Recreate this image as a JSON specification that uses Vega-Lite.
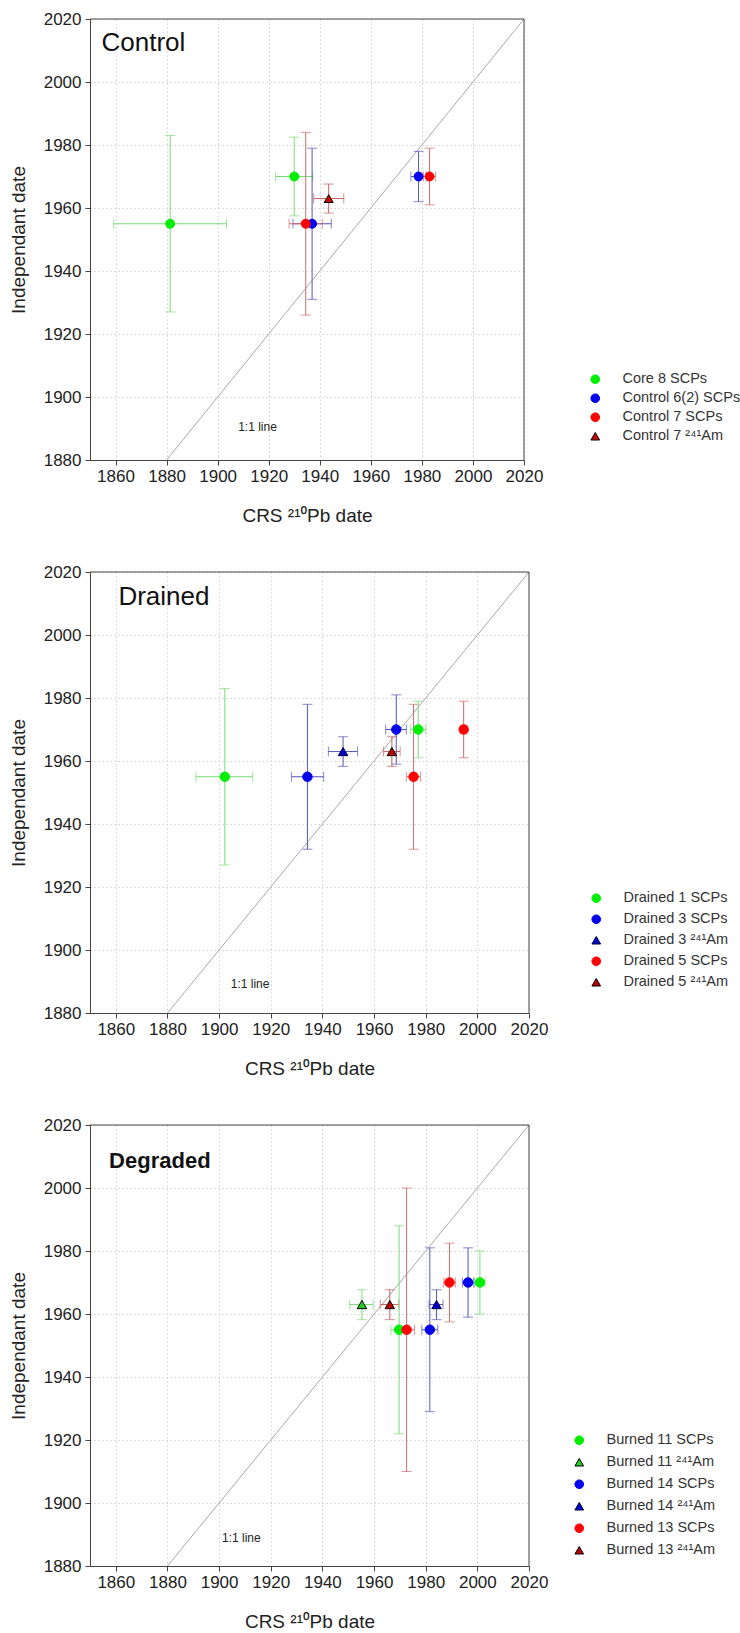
{
  "$schema": "https://vega.github.io/schema/vega-lite/v6.json",
  "padding": {"left": 9, "top": 10, "right": 2, "bottom": 3},
  "bounds": "flush",
  "spacing": 112,
  "config": {
    "font": "Liberation Sans",
    "view": {"stroke": null},
    "axis": {"labelFont": "Liberation Sans", "labelFontSize": 17, "labelColor": "#222", "titleFont": "Liberation Sans, Noto Sans", "titleFontSize": 19, "titleFontWeight": "normal", "titleColor": "#222", "domainColor": "#444", "tickColor": "#444", "tickSize": 5, "gridColor": "#d2d2d2", "gridDash": [1.5, 2.5], "gridWidth": 1, "labelFlush": false, "format": "d"},
    "axisX": {"labelPadding": 3, "titlePadding": 22},
    "axisY": {"labelPadding": 4, "titlePadding": 15},
    "legend": {"labelFont": "Liberation Sans, Noto Sans", "labelFontSize": 14.5, "labelColor": "#333", "symbolSize": 75, "padding": 0, "labelOffset": 20, "symbolStrokeWidth": 1, "titlePadding": 0}
  },
  "datasets": {
    "control": [
      {"series": "Core 8 SCPs", "x": 1881.4, "y": 1955, "xlo": 1859.3, "xhi": 1903.5, "ylo": 1927, "yhi": 1983},
      {"series": "Core 8 SCPs", "x": 1930, "y": 1970, "xlo": 1922.7, "xhi": 1937.3, "ylo": 1957.5, "yhi": 1982.5},
      {"series": "Control 6(2) SCPs", "x": 1937, "y": 1955, "xlo": 1929.5, "xhi": 1944.5, "ylo": 1931, "yhi": 1979},
      {"series": "Control 6(2) SCPs", "x": 1978.7, "y": 1970, "xlo": 1975.7, "xhi": 1981.7, "ylo": 1962, "yhi": 1978},
      {"series": "Control 7 SCPs", "x": 1934.5, "y": 1955, "xlo": 1928, "xhi": 1941, "ylo": 1926, "yhi": 1984},
      {"series": "Control 7 SCPs", "x": 1983, "y": 1970, "xlo": 1980.6, "xhi": 1985.4, "ylo": 1961, "yhi": 1979},
      {"series": "Control 7 ²⁴¹Am", "x": 1943.5, "y": 1963, "xlo": 1937.6, "xhi": 1949.4, "ylo": 1958.4, "yhi": 1967.6}
    ],
    "drained": [
      {"series": "Drained 1 SCPs", "x": 1902.2, "y": 1955, "xlo": 1891, "xhi": 1913, "ylo": 1927, "yhi": 1983},
      {"series": "Drained 1 SCPs", "x": 1977.1, "y": 1970, "xlo": 1974.2, "xhi": 1980, "ylo": 1961, "yhi": 1979},
      {"series": "Drained 3 SCPs", "x": 1934.2, "y": 1955, "xlo": 1928, "xhi": 1940.5, "ylo": 1932, "yhi": 1978},
      {"series": "Drained 3 SCPs", "x": 1968.6, "y": 1970, "xlo": 1964.5, "xhi": 1972.5, "ylo": 1959, "yhi": 1981},
      {"series": "Drained 3 ²⁴¹Am", "x": 1948, "y": 1963, "xlo": 1942.3, "xhi": 1953.6, "ylo": 1958.3, "yhi": 1967.7},
      {"series": "Drained 5 SCPs", "x": 1975.3, "y": 1955, "xlo": 1972.5, "xhi": 1978, "ylo": 1932, "yhi": 1978},
      {"series": "Drained 5 SCPs", "x": 1994.7, "y": 1970, "xlo": 1993.4, "xhi": 1996, "ylo": 1961, "yhi": 1979},
      {"series": "Drained 5 ²⁴¹Am", "x": 1966.9, "y": 1963, "xlo": 1963.7, "xhi": 1970.1, "ylo": 1958.3, "yhi": 1967.7}
    ],
    "degraded": [
      {"series": "Burned 11 SCPs", "x": 1969.7, "y": 1955, "xlo": 1966.5, "xhi": 1972.5, "ylo": 1922, "yhi": 1988},
      {"series": "Burned 11 SCPs", "x": 2001, "y": 1970, "xlo": 1998.8, "xhi": 2003, "ylo": 1960, "yhi": 1980},
      {"series": "Burned 11 ²⁴¹Am", "x": 1955.3, "y": 1963, "xlo": 1950.6, "xhi": 1959.6, "ylo": 1958.2, "yhi": 1967.7},
      {"series": "Burned 14 SCPs", "x": 1981.6, "y": 1955, "xlo": 1978.5, "xhi": 1984.7, "ylo": 1929, "yhi": 1981},
      {"series": "Burned 14 SCPs", "x": 1996.4, "y": 1970, "xlo": 1994.2, "xhi": 1998.6, "ylo": 1959, "yhi": 1981},
      {"series": "Burned 14 ²⁴¹Am", "x": 1984.2, "y": 1963, "xlo": 1981.3, "xhi": 1986.7, "ylo": 1958.2, "yhi": 1967.7},
      {"series": "Burned 13 SCPs", "x": 1972.6, "y": 1955, "xlo": 1969.4, "xhi": 1975.7, "ylo": 1910, "yhi": 2000},
      {"series": "Burned 13 SCPs", "x": 1989.2, "y": 1970, "xlo": 1987, "xhi": 1991.5, "ylo": 1957.5, "yhi": 1982.5},
      {"series": "Burned 13 ²⁴¹Am", "x": 1966.1, "y": 1963, "xlo": 1962.4, "xhi": 1969.6, "ylo": 1958.2, "yhi": 1967.7}
    ],
    "oneone": [{"a": 1880, "b": 1880, "a2": 2020, "b2": 2020}],
    "frame": [{"a": 1850, "b": 2020, "a2": 2020, "b2": 2020}, {"a": 2020, "b": 1880, "a2": 2020, "b2": 2020}]
  },
  "vconcat": [
    {
      "width": 434, "height": 441,
      "layer": [
        {"data": {"name": "oneone"}, "mark": {"type": "rule", "color": "#a8a8a8", "strokeWidth": 1},
         "encoding": {
           "x": {"field": "a", "type": "quantitative", "scale": {"domain": [1850, 2020], "nice": false, "zero": false}, "axis": {"values": [1860, 1880, 1900, 1920, 1940, 1960, 1980, 2000, 2020]}, "title": "CRS ²¹⁰Pb date"},
           "y": {"field": "b", "type": "quantitative", "scale": {"domain": [1880, 2020], "nice": false, "zero": false}, "axis": {"values": [1880, 1900, 1920, 1940, 1960, 1980, 2000, 2020]}, "title": "Independant date"},
           "x2": {"field": "a2"}, "y2": {"field": "b2"}}},
        {"data": {"name": "frame"}, "mark": {"type": "rule", "color": "#444", "strokeWidth": 1},
         "encoding": {"x": {"field": "a", "type": "quantitative", "title": "CRS ²¹⁰Pb date"}, "y": {"field": "b", "type": "quantitative", "title": "Independant date"}, "x2": {"field": "a2"}, "y2": {"field": "b2"}}},
        {"data": {"values": [{"label": "1:1 line", "x": 1915.6, "y": 1890.4}]}, "mark": {"type": "text", "fontSize": 12, "color": "#222", "align": "center", "baseline": "middle"},
         "encoding": {"x": {"field": "x", "type": "quantitative", "title": "CRS ²¹⁰Pb date"}, "y": {"field": "y", "type": "quantitative", "title": "Independant date"}, "text": {"field": "label"}}},
        {"data": {"values": [{"label": "Control", "x": 1854.5, "y": 2012.5}]}, "mark": {"type": "text", "fontSize": 26, "color": "#111", "align": "left", "baseline": "middle"},
         "encoding": {"x": {"field": "x", "type": "quantitative", "title": "CRS ²¹⁰Pb date"}, "y": {"field": "y", "type": "quantitative", "title": "Independant date"}, "text": {"field": "label"}}},
        {"data": {"name": "control"}, "mark": {"type": "errorbar", "ticks": {"size": 10}, "thickness": 1},
         "encoding": {"x": {"field": "xlo", "type": "quantitative", "title": "CRS ²¹⁰Pb date"}, "x2": {"field": "xhi"}, "y": {"field": "y", "type": "quantitative", "title": "Independant date"},
           "color": {"field": "series", "type": "nominal", "legend": null, "scale": {"domain": ["Core 8 SCPs", "Control 6(2) SCPs", "Control 7 SCPs", "Control 7 ²⁴¹Am"], "range": ["#77dd77", "#5555bb", "#d06a6a", "#c86060"]}}}},
        {"data": {"name": "control"}, "mark": {"type": "errorbar", "ticks": {"size": 10}, "thickness": 1},
         "encoding": {"y": {"field": "ylo", "type": "quantitative", "title": "Independant date"}, "y2": {"field": "yhi"}, "x": {"field": "x", "type": "quantitative", "title": "CRS ²¹⁰Pb date"},
           "color": {"field": "series", "type": "nominal", "legend": null, "scale": {"domain": ["Core 8 SCPs", "Control 6(2) SCPs", "Control 7 SCPs", "Control 7 ²⁴¹Am"], "range": ["#77dd77", "#5555bb", "#d06a6a", "#c86060"]}}}},
        {"data": {"name": "control"}, "mark": {"type": "point", "filled": true, "opacity": 1, "size": 80, "strokeWidth": 1},
         "encoding": {"x": {"field": "x", "type": "quantitative", "title": "CRS ²¹⁰Pb date"}, "y": {"field": "y", "type": "quantitative", "title": "Independant date"},
           "fill": {"field": "series", "type": "nominal", "scale": {"domain": ["Core 8 SCPs", "Control 6(2) SCPs", "Control 7 SCPs", "Control 7 ²⁴¹Am"], "range": ["#00ee00", "#0000ee", "#ff0000", "#cc0000"]}, "legend": {"orient": "none", "legendX": 498, "legendY": 353, "title": null, "rowPadding": 4}},
           "stroke": {"field": "series", "type": "nominal", "scale": {"domain": ["Core 8 SCPs", "Control 6(2) SCPs", "Control 7 SCPs", "Control 7 ²⁴¹Am"], "range": ["#00ee00", "#0000ee", "#ff0000", "#000000"]}, "legend": {"orient": "none", "legendX": 498, "legendY": 353, "title": null, "rowPadding": 4}},
           "shape": {"field": "series", "type": "nominal", "scale": {"domain": ["Core 8 SCPs", "Control 6(2) SCPs", "Control 7 SCPs", "Control 7 ²⁴¹Am"], "range": ["circle", "circle", "circle", "triangle-up"]}, "legend": {"orient": "none", "legendX": 498, "legendY": 353, "title": null, "rowPadding": 4}}}}
      ],
      "resolve": {"scale": {"color": "independent"}, "legend": {"color": "independent"}}
    },
    {
      "width": 439, "height": 441,
      "layer": [
        {"data": {"name": "oneone"}, "mark": {"type": "rule", "color": "#a8a8a8", "strokeWidth": 1},
         "encoding": {
           "x": {"field": "a", "type": "quantitative", "scale": {"domain": [1850, 2020], "nice": false, "zero": false}, "axis": {"values": [1860, 1880, 1900, 1920, 1940, 1960, 1980, 2000, 2020]}, "title": "CRS ²¹⁰Pb date"},
           "y": {"field": "b", "type": "quantitative", "scale": {"domain": [1880, 2020], "nice": false, "zero": false}, "axis": {"values": [1880, 1900, 1920, 1940, 1960, 1980, 2000, 2020]}, "title": "Independant date"},
           "x2": {"field": "a2"}, "y2": {"field": "b2"}}},
        {"data": {"name": "frame"}, "mark": {"type": "rule", "color": "#444", "strokeWidth": 1},
         "encoding": {"x": {"field": "a", "type": "quantitative", "title": "CRS ²¹⁰Pb date"}, "y": {"field": "b", "type": "quantitative", "title": "Independant date"}, "x2": {"field": "a2"}, "y2": {"field": "b2"}}},
        {"data": {"values": [{"label": "1:1 line", "x": 1912, "y": 1889.3}]}, "mark": {"type": "text", "fontSize": 12, "color": "#222", "align": "center", "baseline": "middle"},
         "encoding": {"x": {"field": "x", "type": "quantitative", "title": "CRS ²¹⁰Pb date"}, "y": {"field": "y", "type": "quantitative", "title": "Independant date"}, "text": {"field": "label"}}},
        {"data": {"values": [{"label": "Drained", "x": 1861, "y": 2012.1}]}, "mark": {"type": "text", "fontSize": 26, "color": "#111", "align": "left", "baseline": "middle"},
         "encoding": {"x": {"field": "x", "type": "quantitative", "title": "CRS ²¹⁰Pb date"}, "y": {"field": "y", "type": "quantitative", "title": "Independant date"}, "text": {"field": "label"}}},
        {"data": {"name": "drained"}, "mark": {"type": "errorbar", "ticks": {"size": 10}, "thickness": 1},
         "encoding": {"x": {"field": "xlo", "type": "quantitative", "title": "CRS ²¹⁰Pb date"}, "x2": {"field": "xhi"}, "y": {"field": "y", "type": "quantitative", "title": "Independant date"},
           "color": {"field": "series", "type": "nominal", "legend": null, "scale": {"domain": ["Drained 1 SCPs", "Drained 3 SCPs", "Drained 3 ²⁴¹Am", "Drained 5 SCPs", "Drained 5 ²⁴¹Am"], "range": ["#77dd77", "#5555bb", "#5555bb", "#d06a6a", "#c86060"]}}}},
        {"data": {"name": "drained"}, "mark": {"type": "errorbar", "ticks": {"size": 10}, "thickness": 1},
         "encoding": {"y": {"field": "ylo", "type": "quantitative", "title": "Independant date"}, "y2": {"field": "yhi"}, "x": {"field": "x", "type": "quantitative", "title": "CRS ²¹⁰Pb date"},
           "color": {"field": "series", "type": "nominal", "legend": null, "scale": {"domain": ["Drained 1 SCPs", "Drained 3 SCPs", "Drained 3 ²⁴¹Am", "Drained 5 SCPs", "Drained 5 ²⁴¹Am"], "range": ["#77dd77", "#5555bb", "#5555bb", "#d06a6a", "#c86060"]}}}},
        {"data": {"name": "drained"}, "mark": {"type": "point", "filled": true, "opacity": 1, "size": 90, "strokeWidth": 1},
         "encoding": {"x": {"field": "x", "type": "quantitative", "title": "CRS ²¹⁰Pb date"}, "y": {"field": "y", "type": "quantitative", "title": "Independant date"},
           "fill": {"field": "series", "type": "nominal", "scale": {"domain": ["Drained 1 SCPs", "Drained 3 SCPs", "Drained 3 ²⁴¹Am", "Drained 5 SCPs", "Drained 5 ²⁴¹Am"], "range": ["#00ee00", "#0000ee", "#0000cc", "#ff0000", "#bb0000"]}, "legend": {"orient": "none", "legendX": 499, "legendY": 319, "title": null, "rowPadding": 6}},
           "stroke": {"field": "series", "type": "nominal", "scale": {"domain": ["Drained 1 SCPs", "Drained 3 SCPs", "Drained 3 ²⁴¹Am", "Drained 5 SCPs", "Drained 5 ²⁴¹Am"], "range": ["#00ee00", "#0000ee", "#000033", "#ff0000", "#000000"]}, "legend": {"orient": "none", "legendX": 499, "legendY": 319, "title": null, "rowPadding": 6}},
           "shape": {"field": "series", "type": "nominal", "scale": {"domain": ["Drained 1 SCPs", "Drained 3 SCPs", "Drained 3 ²⁴¹Am", "Drained 5 SCPs", "Drained 5 ²⁴¹Am"], "range": ["circle", "circle", "triangle-up", "circle", "triangle-up"]}, "legend": {"orient": "none", "legendX": 499, "legendY": 319, "title": null, "rowPadding": 6}}}}
      ],
      "resolve": {"scale": {"color": "independent"}, "legend": {"color": "independent"}}
    },
    {
      "width": 439, "height": 441,
      "layer": [
        {"data": {"name": "oneone"}, "mark": {"type": "rule", "color": "#a8a8a8", "strokeWidth": 1},
         "encoding": {
           "x": {"field": "a", "type": "quantitative", "scale": {"domain": [1850, 2020], "nice": false, "zero": false}, "axis": {"values": [1860, 1880, 1900, 1920, 1940, 1960, 1980, 2000, 2020]}, "title": "CRS ²¹⁰Pb date"},
           "y": {"field": "b", "type": "quantitative", "scale": {"domain": [1880, 2020], "nice": false, "zero": false}, "axis": {"values": [1880, 1900, 1920, 1940, 1960, 1980, 2000, 2020]}, "title": "Independant date"},
           "x2": {"field": "a2"}, "y2": {"field": "b2"}}},
        {"data": {"name": "frame"}, "mark": {"type": "rule", "color": "#444", "strokeWidth": 1},
         "encoding": {"x": {"field": "a", "type": "quantitative", "title": "CRS ²¹⁰Pb date"}, "y": {"field": "b", "type": "quantitative", "title": "Independant date"}, "x2": {"field": "a2"}, "y2": {"field": "b2"}}},
        {"data": {"values": [{"label": "1:1 line", "x": 1908.6, "y": 1888.9}]}, "mark": {"type": "text", "fontSize": 12, "color": "#222", "align": "center", "baseline": "middle"},
         "encoding": {"x": {"field": "x", "type": "quantitative", "title": "CRS ²¹⁰Pb date"}, "y": {"field": "y", "type": "quantitative", "title": "Independant date"}, "text": {"field": "label"}}},
        {"data": {"values": [{"label": "Degraded", "x": 1857.4, "y": 2008.5}]}, "mark": {"type": "text", "fontSize": 22, "font": "Liberation Sans", "fontWeight": "bold", "color": "#111", "align": "left", "baseline": "middle"},
         "encoding": {"x": {"field": "x", "type": "quantitative", "title": "CRS ²¹⁰Pb date"}, "y": {"field": "y", "type": "quantitative", "title": "Independant date"}, "text": {"field": "label"}}},
        {"data": {"name": "degraded"}, "mark": {"type": "errorbar", "ticks": {"size": 10}, "thickness": 1},
         "encoding": {"x": {"field": "xlo", "type": "quantitative", "title": "CRS ²¹⁰Pb date"}, "x2": {"field": "xhi"}, "y": {"field": "y", "type": "quantitative", "title": "Independant date"},
           "color": {"field": "series", "type": "nominal", "legend": null, "scale": {"domain": ["Burned 11 SCPs", "Burned 11 ²⁴¹Am", "Burned 14 SCPs", "Burned 14 ²⁴¹Am", "Burned 13 SCPs", "Burned 13 ²⁴¹Am"], "range": ["#77dd77", "#77dd77", "#5555bb", "#5555bb", "#d06a6a", "#c86060"]}}}},
        {"data": {"name": "degraded"}, "mark": {"type": "errorbar", "ticks": {"size": 10}, "thickness": 1},
         "encoding": {"y": {"field": "ylo", "type": "quantitative", "title": "Independant date"}, "y2": {"field": "yhi"}, "x": {"field": "x", "type": "quantitative", "title": "CRS ²¹⁰Pb date"},
           "color": {"field": "series", "type": "nominal", "legend": null, "scale": {"domain": ["Burned 11 SCPs", "Burned 11 ²⁴¹Am", "Burned 14 SCPs", "Burned 14 ²⁴¹Am", "Burned 13 SCPs", "Burned 13 ²⁴¹Am"], "range": ["#77dd77", "#77dd77", "#5555bb", "#5555bb", "#d06a6a", "#c86060"]}}}},
        {"data": {"name": "degraded"}, "mark": {"type": "point", "filled": true, "opacity": 1, "size": 90, "strokeWidth": 1},
         "encoding": {"x": {"field": "x", "type": "quantitative", "title": "CRS ²¹⁰Pb date"}, "y": {"field": "y", "type": "quantitative", "title": "Independant date"},
           "fill": {"field": "series", "type": "nominal", "scale": {"domain": ["Burned 11 SCPs", "Burned 11 ²⁴¹Am", "Burned 14 SCPs", "Burned 14 ²⁴¹Am", "Burned 13 SCPs", "Burned 13 ²⁴¹Am"], "range": ["#00ee00", "#22cc22", "#0000ee", "#0000cc", "#ff0000", "#bb0000"]}, "legend": {"orient": "none", "legendX": 482, "legendY": 308, "title": null, "rowPadding": 7}},
           "stroke": {"field": "series", "type": "nominal", "scale": {"domain": ["Burned 11 SCPs", "Burned 11 ²⁴¹Am", "Burned 14 SCPs", "Burned 14 ²⁴¹Am", "Burned 13 SCPs", "Burned 13 ²⁴¹Am"], "range": ["#00ee00", "#000000", "#0000ee", "#000033", "#ff0000", "#000000"]}, "legend": {"orient": "none", "legendX": 482, "legendY": 308, "title": null, "rowPadding": 7}},
           "shape": {"field": "series", "type": "nominal", "scale": {"domain": ["Burned 11 SCPs", "Burned 11 ²⁴¹Am", "Burned 14 SCPs", "Burned 14 ²⁴¹Am", "Burned 13 SCPs", "Burned 13 ²⁴¹Am"], "range": ["circle", "triangle-up", "circle", "triangle-up", "circle", "triangle-up"]}, "legend": {"orient": "none", "legendX": 482, "legendY": 308, "title": null, "rowPadding": 7}}}}
      ],
      "resolve": {"scale": {"color": "independent"}, "legend": {"color": "independent"}}
    }
  ],
  "resolve": {"scale": {"color": "independent", "fill": "independent", "stroke": "independent", "shape": "independent"}, "legend": {"color": "independent", "fill": "independent", "stroke": "independent", "shape": "independent"}}
}
